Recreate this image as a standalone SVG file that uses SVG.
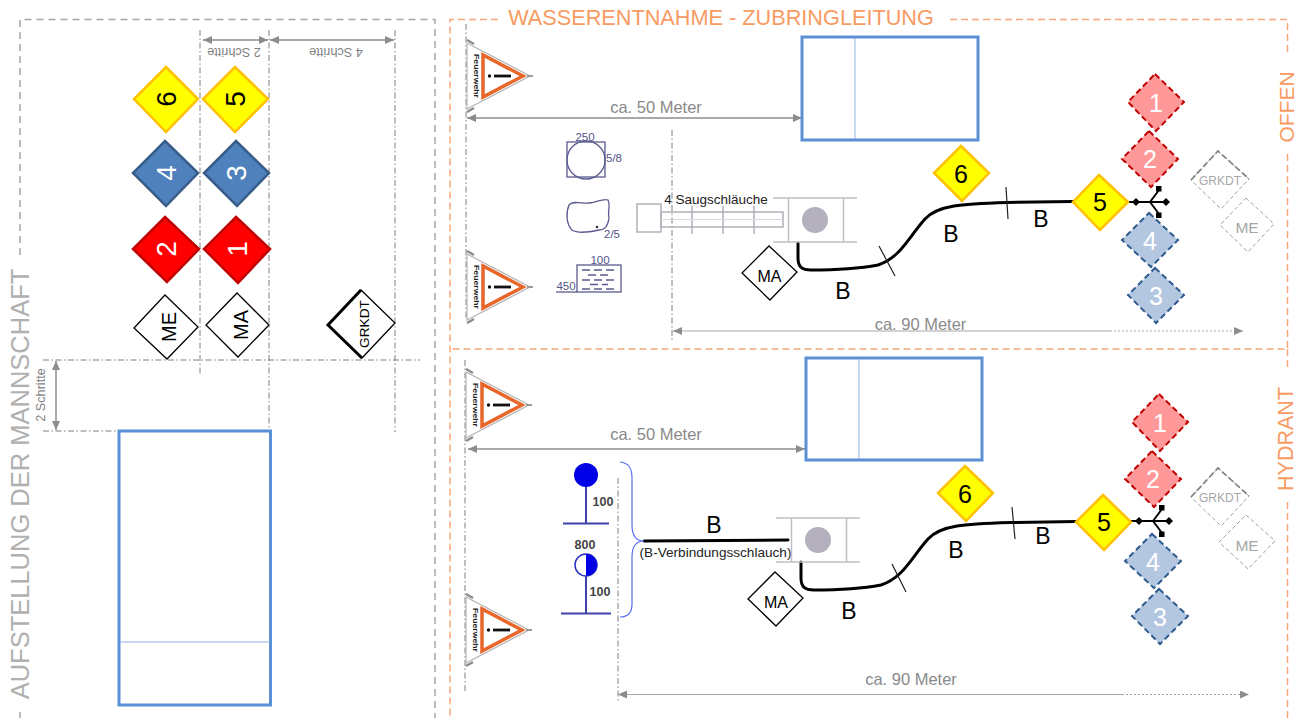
<svg xmlns="http://www.w3.org/2000/svg" width="1309" height="718" viewBox="0 0 1309 718">
<style>
text{font-family:"Liberation Sans",Arial,sans-serif;text-anchor:middle;dominant-baseline:central}
.frameL{fill:none;stroke:#a6a6a6;stroke-width:1.5;stroke-dasharray:7 5}
.frameR{fill:none;stroke:#f8a778;stroke-width:1.5;stroke-dasharray:7 4}
.guide{fill:none;stroke:#7f7f7f;stroke-width:1;stroke-dasharray:6 2.500 1.500 2.500}
.dim{fill:none;stroke:#8c8c8c;stroke-width:1.5;marker-start:url(#as);marker-end:url(#ae)}
.dimS{fill:none;stroke:#a6a6a6;stroke-width:1.2;marker-start:url(#as)}
.dimD{fill:none;stroke:#a6a6a6;stroke-width:1.2;stroke-dasharray:2 2;marker-end:url(#ae)}
.hose{fill:none;stroke:#000;stroke-width:3;stroke-linecap:round}
.tick{fill:none;stroke:#222;stroke-width:1.2}
.truck{fill:#fff;stroke:#5b8fd6;stroke-width:3}
.truckL{stroke:#8fb4e3;stroke-width:1}
.pump{fill:none;stroke:#c0bfc8;stroke-width:1.5}
.suct{fill:none;stroke:#b0b0b8;stroke-width:1.5}
.sym{fill:none;stroke:#5a5a90;stroke-width:1.3}
.symT{font-size:11.5px;fill:#55558a}
.hyd{stroke:#3d43a8;stroke-width:2;fill:none}
.hydT{font-size:12.5px;font-weight:bold;fill:#444}
.dim-t{font-size:16.500px;fill:#8a8a8a}
.sm{font-size:12.700px;fill:#7f7f7f}
.b{font-size:23px;fill:#000}
.yel{fill:#ff0;stroke:#ffc000;stroke-width:2.5}
.blu{fill:#4f81bd;stroke:#385d8a;stroke-width:2.5}
.red{fill:#f00;stroke:#c00000;stroke-width:2.5}
.wht{fill:#fff;stroke:#000;stroke-width:1.3}
.redD{fill:#ff9999;stroke:#c00000;stroke-width:2;stroke-dasharray:6 3.5}
.bluD{fill:#b4c7e1;stroke:#2f5c8f;stroke-width:2;stroke-dasharray:6 3.5}
.gryD{fill:#fff;stroke:#a0a0a0;stroke-width:1;stroke-dasharray:4 2.5}
.gryT{fill:none;stroke:#858585;stroke-width:1.800;stroke-dasharray:6 3}
.n{font-size:25px}
.nL{font-size:28px}
.k{fill:#000}.w{fill:#fff}.g{fill:#a6a6a6}
</style>
<defs>
<marker id="ae" markerWidth="10" markerHeight="8" refX="9" refY="4" orient="auto" markerUnits="userSpaceOnUse"><path d="M0 0L9 4L0 8Z" fill="#8c8c8c"/></marker>
<marker id="as" markerWidth="10" markerHeight="8" refX="0" refY="4" orient="auto" markerUnits="userSpaceOnUse"><path d="M9 0L0 4L9 8Z" fill="#8c8c8c"/></marker>
<symbol id="warn" width="80" height="80" viewBox="0 0 80 80" overflow="visible">
<path d="M7 7V73L70 40Z" fill="#fff" stroke="#b5b5b5" stroke-width="1.2"/>
<path d="M7 4L14 8M7 76L14 72" stroke="#8c8c8c" stroke-width="2.5"/>
<path d="M67 40H73" stroke="#999" stroke-width="2"/>
<path d="M23 19V61L63 40Z" fill="#fff" stroke="#e8662a" stroke-width="3.500"/>
<path d="M34 40H51" stroke="#111" stroke-width="2.8"/>
<circle cx="29.500" cy="40" r="1.700" fill="#111"/>
<text transform="translate(16 40) rotate(90)" font-size="6.500px" font-weight="bold" fill="#222" textLength="44" lengthAdjust="spacingAndGlyphs">Feuerwehr</text>
</symbol>
<symbol id="coupling" width="50" height="40" viewBox="0 0 50 40" overflow="visible">
<path d="M0 20H38M22 20L31 8M22 20L31 32" fill="none" stroke="#000" stroke-width="2"/>
<path d="M8 16L12 20L8 24L4 20ZM38 16L42 20L38 24L34 20Z" fill="#000"/>
<rect x="28" y="4" width="5.500" height="5.500" fill="#000"/><rect x="28" y="30.500" width="5.500" height="5.500" fill="#000"/>
</symbol>
<symbol id="pumpS" width="90" height="50" viewBox="0 0 90 50" overflow="visible">
<path class="pump" d="M0 3H84M0 47H84M15.500 3V47M70.500 3V47"/>
<circle cx="42" cy="25" r="13" fill="#b4b0bd"/>
</symbol>
</defs>

<g id="frames">
<path class="frameL" d="M20 255V19.500H435V718M20 712V718"/>
<path class="frameR" d="M498 19.500H450V718M950 19.500H1287.500V53M1287.500 154V349H450M1287.500 349V370M1287.500 502V718"/>
</g>

<g id="connectors">
<path class="guide" d="M200 30V376M269 30V430M395 30V432M43 360H420M43 431H118M466 24V320M672 130V340M465 360V693M618 478V702"/>
<path class="dim" d="M203 40H268"/>
<path class="dim" d="M270 40H394"/>
<path class="dim" d="M56 361V430"/>
<path class="dim" d="M467 118H802"/>
<path class="dim" d="M468 449H805"/>
<path class="dimS" d="M673 331H1112"/><path class="dimD" d="M1114 331H1243"/>
<path class="dimS" d="M618 694.500H1124"/><path class="dimD" d="M1126 694.500H1249"/>
<path class="hose" d="M798 243V258C798 267 802 270 811 270C835 270 862 268 878 265C900 258 908 238 925 219C938 205 962 204 1007 202.500L1073 201.500"/>
<path class="tick" d="M879 246L895 276M1006 187L1008 219"/>
<path class="hose" d="M801 562V578C801 587 805 590 814 590C838 590 865 588 881 585C903 578 911 558 928 539C941 525 965 524 1010 522.500L1076 521.500"/>
<path class="tick" d="M892 564L906 592M1012 507L1015 539"/>
<path class="hose" d="M644 541L788 540"/>
<path d="M620 462C628 463 632 467 632 478V525C632 535 636 541 644 541C636 541 632 547 632 557V604C632 613 628 617 620 617" fill="none" stroke="#5a6cf0" stroke-width="1.200"/>
<use href="#coupling" x="1128" y="182"/>
<use href="#coupling" x="1131" y="501"/>
</g>

<g id="labels">
<text x="721" y="17.500" font-size="21.700" fill="#f79b63">WASSERENTNAHME - ZUBRINGLEITUNG</text>
<text transform="translate(20 484) rotate(-90)" font-size="25.500" fill="#b0b0b0">AUFSTELLUNG DER MANNSCHAFT</text>
<text transform="translate(1286 107) rotate(-90)" font-size="21px" fill="#f79b63">OFFEN</text>
<text transform="translate(1286 439) rotate(-90)" font-size="21.500" fill="#f79b63">HYDRANT</text>
<text class="sm" transform="translate(234 52) rotate(180)">2 Schritte</text>
<text class="sm" transform="translate(336 52) rotate(180)">4 Schritte</text>
<text class="sm" transform="translate(41 395) rotate(-90)">2 Schritte</text>
<text class="dim-t" x="656" y="107">ca. 50 Meter</text>
<text class="dim-t" x="656" y="434">ca. 50 Meter</text>
<text class="dim-t" x="920.500" y="324">ca. 90 Meter</text>
<text class="dim-t" x="911" y="679">ca. 90 Meter</text>
<text class="b" x="843" y="291">B</text><text class="b" x="951" y="234">B</text><text class="b" x="1041" y="219">B</text>
<text class="b" x="849" y="611">B</text><text class="b" x="956" y="550">B</text><text class="b" x="1043" y="536">B</text>
<text class="b" x="714" y="525">B</text>
<text x="715.500" y="552" font-size="13.600px" fill="#222">(B-Verbindungsschlauch)</text>
<text x="716" y="199" font-size="13.500px" fill="#222">4 Saugschläuche</text>
</g>

<g id="truck-left"><rect class="truck" x="119" y="431" width="151.500" height="274"/><path class="truckL" d="M120 642H270"/></g>
<g id="truck-open"><rect class="truck" x="802" y="37" width="176" height="103"/><path class="truckL" d="M855 38V139"/></g>
<g id="truck-hydrant"><rect class="truck" x="806" y="358" width="176" height="102"/><path class="truckL" d="M859 359V459"/></g>

<g id="warn-1"><use href="#warn" x="460" y="36"/></g>
<g id="warn-2"><use href="#warn" x="460" y="247"/></g>
<g id="warn-3"><use href="#warn" x="459" y="365"/></g>
<g id="warn-4"><use href="#warn" x="459" y="590"/></g>

<g id="source-open">
<rect class="sym" x="567" y="142" width="38" height="35"/><circle class="sym" cx="586" cy="160" r="19"/>
<text class="symT" x="585" y="137">250</text><text class="symT" x="614" y="158">5/8</text>
<path class="sym" d="M569 205C574 200 582 204 590 203C597 202 604 198 608 200C611 206 607 212 609 218C608 226 604 230 599 230C590 232 578 234 572 230C566 224 566 212 569 205Z"/>
<circle cx="597" cy="227" r="1.300" fill="#333"/><text class="symT" x="612" y="234">2/5</text>
<rect class="sym" x="577" y="265" width="44" height="27"/>
<path class="sym" d="M582 270h8m4 0h8m4 0h8M588 275h8m4 0h8M582 280h8m4 0h8m4 0h8M590 284.500h8m4 0h6M582 289h8m4 0h8m4 0h8"/>
<text class="symT" x="600" y="260">100</text><text class="symT" x="566" y="286">450</text>
<path class="sym" d="M556 292H577"/>
</g>

<g id="suction">
<rect class="suct" x="637" y="204" width="24" height="28"/>
<rect class="suct" x="661" y="212" width="122" height="15"/>
<path class="suct" d="M692 206V234M723 206V234M754 206V234"/>
<path d="M661 219.500H783" stroke="#d8d8de" stroke-width="1"/>
</g>

<g id="pump-open"><use href="#pumpS" x="773" y="195"/></g>
<g id="pump-hydrant"><use href="#pumpS" x="776" y="515"/></g>

<g id="hydrants">
<circle cx="586" cy="475" r="12" fill="#0000e6"/>
<path class="hyd" d="M586 487V523M563 523.500H609"/>
<text class="hydT" x="603" y="502">100</text><text class="hydT" x="585" y="545">800</text>
<circle cx="586" cy="565" r="11" fill="#fff" stroke="#2a30c0" stroke-width="1.500"/>
<path d="M586 554A11 11 0 0 1 586 576Z" fill="#0000e6"/>
<path class="hyd" d="M586 576V613M561 613.500H611"/>
<text class="hydT" x="600" y="592">100</text>
</g>

<g id="L6"><path class="yel" d="M166 67L198 99L166 132L134 99Z"/><text class="nL k" transform="translate(166.500 99) rotate(-90)">6</text></g>
<g id="L5"><path class="yel" d="M235 67L268 99L235 132L203 99Z"/><text class="nL k" transform="translate(235 99) rotate(-90)">5</text></g>
<g id="L4"><path class="blu" d="M165 141L198 173L166 206L133 173Z"/><text class="nL w" transform="translate(166 173) rotate(-90)">4</text></g>
<g id="L3"><path class="blu" d="M236 141L269 173L237 206L204 173Z"/><text class="nL w" transform="translate(236 173) rotate(-90)">3</text></g>
<g id="L2"><path class="red" d="M165 217L199 249L167 282L133 249Z"/><text class="nL w" transform="translate(166 249) rotate(-90)">2</text></g>
<g id="L1"><path class="red" d="M236 217L270 249L238 283L204 249Z"/><text class="nL w" transform="translate(237 249) rotate(-90)">1</text></g>
<g id="LME"><path class="wht" d="M165 295L198 327L167 359L134 328Z"/><text transform="translate(169 327) rotate(-90)" font-size="20px">ME</text></g>
<g id="LMA"><path class="wht" d="M237 293L269 325L238 357L206 325Z"/><text transform="translate(241 325) rotate(-90)" font-size="20px">MA</text></g>
<g id="LGRKDT"><path class="wht" d="M361 290L395 323L362 358L328 325Z"/><path d="M361 290L328 325L362 358" fill="none" stroke="#000" stroke-width="3"/><text transform="translate(364 324) rotate(-90)" font-size="13.700px">GRKDT</text></g>

<g id="O6"><path class="yel" d="M961 146L989 173L962 201L934 173Z"/><text class="n k" x="961" y="174">6</text></g>
<g id="O5"><path class="yel" d="M1099 175L1128 202L1100 230L1073 202Z"/><text class="n k" x="1100" y="202">5</text></g>
<g id="O1"><path class="redD" d="M1155 74L1184 102L1156 131L1128 102Z"/><text class="n w" x="1156" y="103">1</text></g>
<g id="O2"><path class="redD" d="M1149 131L1178 159L1151 187L1122 159Z"/><text class="n w" x="1150" y="159">2</text></g>
<g id="O4"><path class="bluD" d="M1149 213L1178 240L1151 267L1122 240Z"/><text class="n w" x="1150" y="241">4</text></g>
<g id="O3"><path class="bluD" d="M1155 268L1184 295L1156 323L1128 295Z"/><text class="n w" x="1156" y="296">3</text></g>
<g id="OGRKDT"><path class="gryD" d="M1218 151L1249 179L1221 209L1191 180Z"/><path class="gryT" d="M1191 180L1218 151L1249 179"/><text x="1220" y="180.500" font-size="12px" class="g">GRKDT</text></g>
<g id="OME"><path class="gryD" d="M1246 198L1274 224L1248 252L1220 225Z"/><text x="1247" y="227" font-size="15.500px" class="g">ME</text></g>
<g id="OMA"><path class="wht" d="M769 246L797 272L770 300L742 273Z"/><text x="769.500" y="276" font-size="16px">MA</text></g>

<g id="H6"><path class="yel" d="M965 466L993 493L966 521L938 493Z"/><text class="n k" x="965" y="494">6</text></g>
<g id="H5"><path class="yel" d="M1103 495L1131 522L1104 550L1076 522Z"/><text class="n k" x="1104" y="522">5</text></g>
<g id="H1"><path class="redD" d="M1159 394L1188 422L1160 451L1132 422Z"/><text class="n w" x="1160" y="423">1</text></g>
<g id="H2"><path class="redD" d="M1152 451L1181 479L1154 507L1125 479Z"/><text class="n w" x="1153" y="479">2</text></g>
<g id="H4"><path class="bluD" d="M1152 534L1181 561L1154 588L1125 561Z"/><text class="n w" x="1153" y="562">4</text></g>
<g id="H3"><path class="bluD" d="M1159 589L1188 616L1160 644L1132 616Z"/><text class="n w" x="1160" y="617">3</text></g>
<g id="HGRKDT"><path class="gryD" d="M1218 468L1249 496L1221 526L1191 497Z"/><path class="gryT" d="M1191 497L1218 468L1249 496"/><text x="1220" y="498" font-size="12px" class="g">GRKDT</text></g>
<g id="HME"><path class="gryD" d="M1246 515L1275 541L1248 569L1219 542Z"/><text x="1247" y="545" font-size="15.500px" class="g">ME</text></g>
<g id="HMA"><path class="wht" d="M775 572L803 598L776 626L748 599Z"/><text x="776" y="602" font-size="16px">MA</text></g>
</svg>
